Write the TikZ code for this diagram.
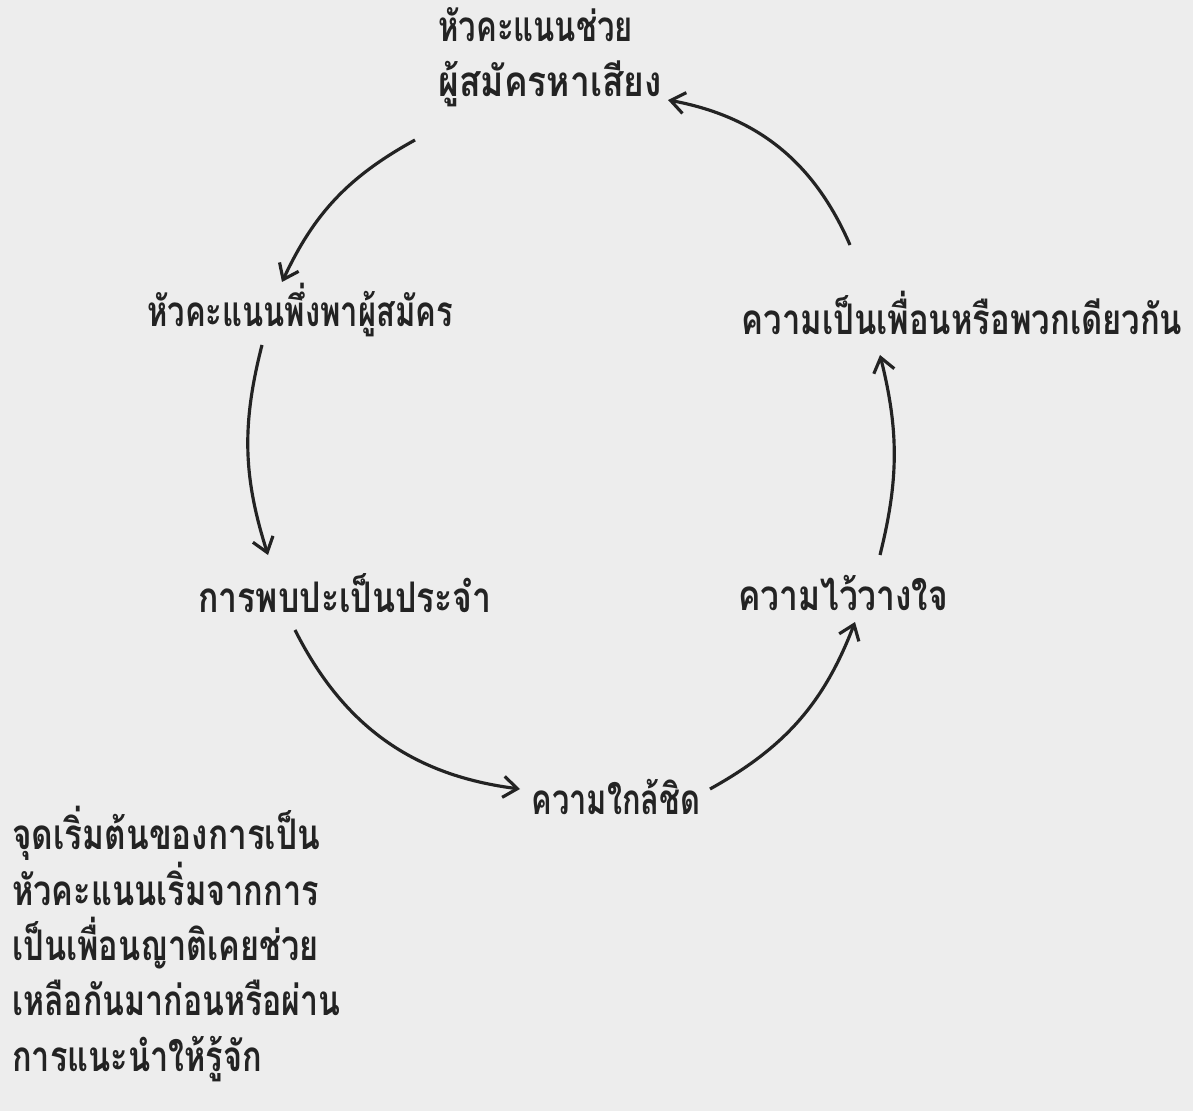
\documentclass[tikz,border=0pt]{standalone}
\usepackage{fontspec}
\newfontfamily\thaifont[Script=Thai]{Loma}
\usetikzlibrary{arrows.meta}
\definecolor{paper}{HTML}{EDEDED}
\definecolor{ink}{HTML}{232323}
\newcommand\hsq[2]{\scalebox{#1}[1]{#2}}
\begin{document}
\begin{tikzpicture}[x=0.02cm,y=-0.02cm,
  lbl/.style={font=\thaifont\bfseries\fontsize{24}{31}\selectfont, text=ink, inner sep=0pt},
  arr/.style={draw=ink, line width=1.8pt, -{Straight Barb[length=8pt,width=12pt,line width=1.8pt]}}]
\fill[paper] (0,0) rectangle (1193,1111);
\useasboundingbox (0,0) rectangle (1193,1111);

\node[lbl, anchor=west, align=left] (top) at (438,57) {\hsq{0.736}{หัวคะแนนช่วย}\\\hsq{0.84}{ผู้สมัครหาเสียง}};
\node[lbl] (dep) at (300,310) {\hsq{0.734}{หัวคะแนนพึ่งพาผู้สมัคร}};
\node[lbl] (friend) at (962,313) {\hsq{0.777}{ความเป็นเพื่อนหรือพวกเดียวกัน}};
\node[lbl] (meet) at (345,593) {\hsq{0.80}{การพบปะเป็นประจำ}};
\node[lbl] (trust) at (843,593) {\hsq{0.795}{ความไว้วางใจ}};
\node[lbl] (close) at (616,797) {\hsq{0.73}{ความใกล้ชิด}};
\node[lbl, anchor=west, align=left, font=\thaifont\bfseries\fontsize{24}{31.5}\selectfont] (note) at (12,944)
  {\hsq{0.79}{จุดเริ่มต้นของการเป็น}\\\hsq{0.77}{หัวคะแนนเริ่มจากการ}\\\hsq{0.77}{เป็นเพื่อนญาติเคยช่วย}\\\hsq{0.76}{เหลือกันมาก่อนหรือผ่าน}\\\hsq{0.77}{การแนะนำให้รู้จัก}};

\draw[arr] ([shift={(-23,83)}]top.west) to[bend right=18] ([shift={(-18,-28)}]dep.center);
\draw[arr] ([shift={(-38,35)}]dep.center) to[bend right=16] ([shift={(-77,-38)}]meet.center);
\draw[arr] ([shift={(-50,37)}]meet.center) to[bend right=28] ([shift={(-96,-8)}]close.center);
\draw[arr] ([shift={(94,-8)}]close.center) to[bend right=20] ([shift={(12,29)}]trust.center);
\draw[arr] ([shift={(37,-38)}]trust.center) to[bend right=14] ([shift={(-82,42)}]friend.center);
\draw[arr] ([shift={(-112,-68)}]friend.center) to[bend right=28] ([shift={(230,43)}]top.west);
\end{tikzpicture}
\end{document}
